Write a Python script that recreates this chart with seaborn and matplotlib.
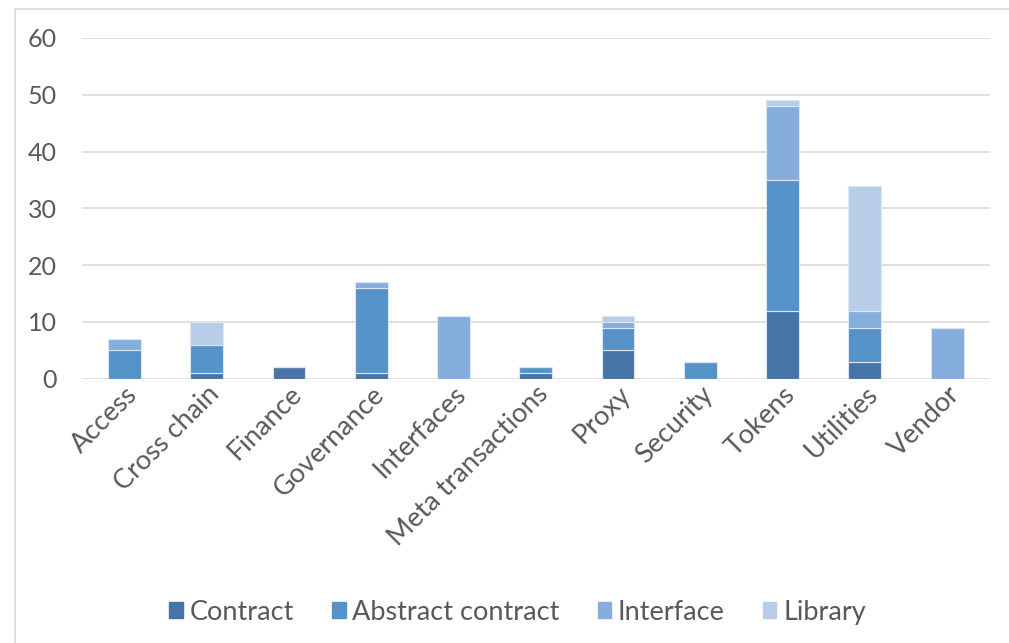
import numpy as np
import pandas as pd
import matplotlib
matplotlib.use("Agg")
import matplotlib.pyplot as plt
import seaborn as sns
from matplotlib.lines import Line2D

# Dados
categories = ["Access", "Cross chain", "Finance", "Governance", "Interfaces",
              "Meta transactions", "Proxy", "Security", "Tokens", "Utilities", "Vendor"]
contract = [0, 1, 2, 1, 0, 1, 5, 0, 12, 3, 0]
abstract_contract = [5, 5, 0, 15, 0, 1, 4, 3, 23, 6, 0]
interface = [2, 0, 0, 1, 11, 0, 1, 0, 13, 3, 9]
library = [0, 4, 0, 0, 0, 0, 1, 0, 1, 22, 0]

series = ["Contract", "Abstract contract", "Interface", "Library"]
colors = ["#4674A6", "#5592C8", "#85AEDC", "#B8CDE8"]

df = pd.DataFrame({"category": categories, "Contract": contract,
                   "Abstract contract": abstract_contract,
                   "Interface": interface, "Library": library})

sns.set_style("white")
plt.rcParams["font.family"] = ["Lato", "DejaVu Sans"]

fig = plt.figure(figsize=(10.09, 6.43), dpi=100)
ax = fig.add_axes([0.081, 0.411, 0.900, 0.530])

# barras empilhadas, uma série por vez
bottom = np.zeros(len(categories))
for name, col in zip(series, colors):
    sns.barplot(data=df, x="category", y=name, color=col, bottom=bottom,
                width=0.4, saturation=1, edgecolor="#DCE6F2", linewidth=0.8,
                ax=ax, zorder=3)
    bottom = bottom + df[name].values

ax.set_ylim(0, 60)
ax.set_yticks(range(0, 61, 10))
ax.set_xlim(-0.52, len(categories) - 0.48)
ax.yaxis.grid(True, color="#D9D9D9", linewidth=1.2, zorder=0)
ax.set_axisbelow(True)
for s in ax.spines.values():
    s.set_visible(False)
ax.set_xlabel("")
ax.set_ylabel("")
ax.tick_params(axis="y", labelsize=18, labelcolor="#595959", length=0, pad=18)
ax.tick_params(axis="x", labelsize=19.5, labelcolor="#595959", length=0, pad=2)
plt.setp(ax.get_xticklabels(), rotation=45, ha="right", rotation_mode="anchor")

handles = [plt.Rectangle((0, 0), 1, 1, color=c) for c in colors]
fig.legend(handles, series, loc="center", bbox_to_anchor=(0.513, 0.048),
           ncol=4, frameon=False, fontsize=19.5, handlelength=0.5,
           handleheight=0.5, handletextpad=0.25, columnspacing=1.4,
           labelcolor="#595959")

# moldura cinza à esquerda e no topo
fig.add_artist(Line2D([0.0149, 0.0149], [0, 0.986], transform=fig.transFigure,
                      color="#D9D9D9", linewidth=1.2))
fig.add_artist(Line2D([0.0149, 1.0], [0.986, 0.986], transform=fig.transFigure,
                      color="#D9D9D9", linewidth=1.2))

fig.savefig("out.png", dpi=100)
